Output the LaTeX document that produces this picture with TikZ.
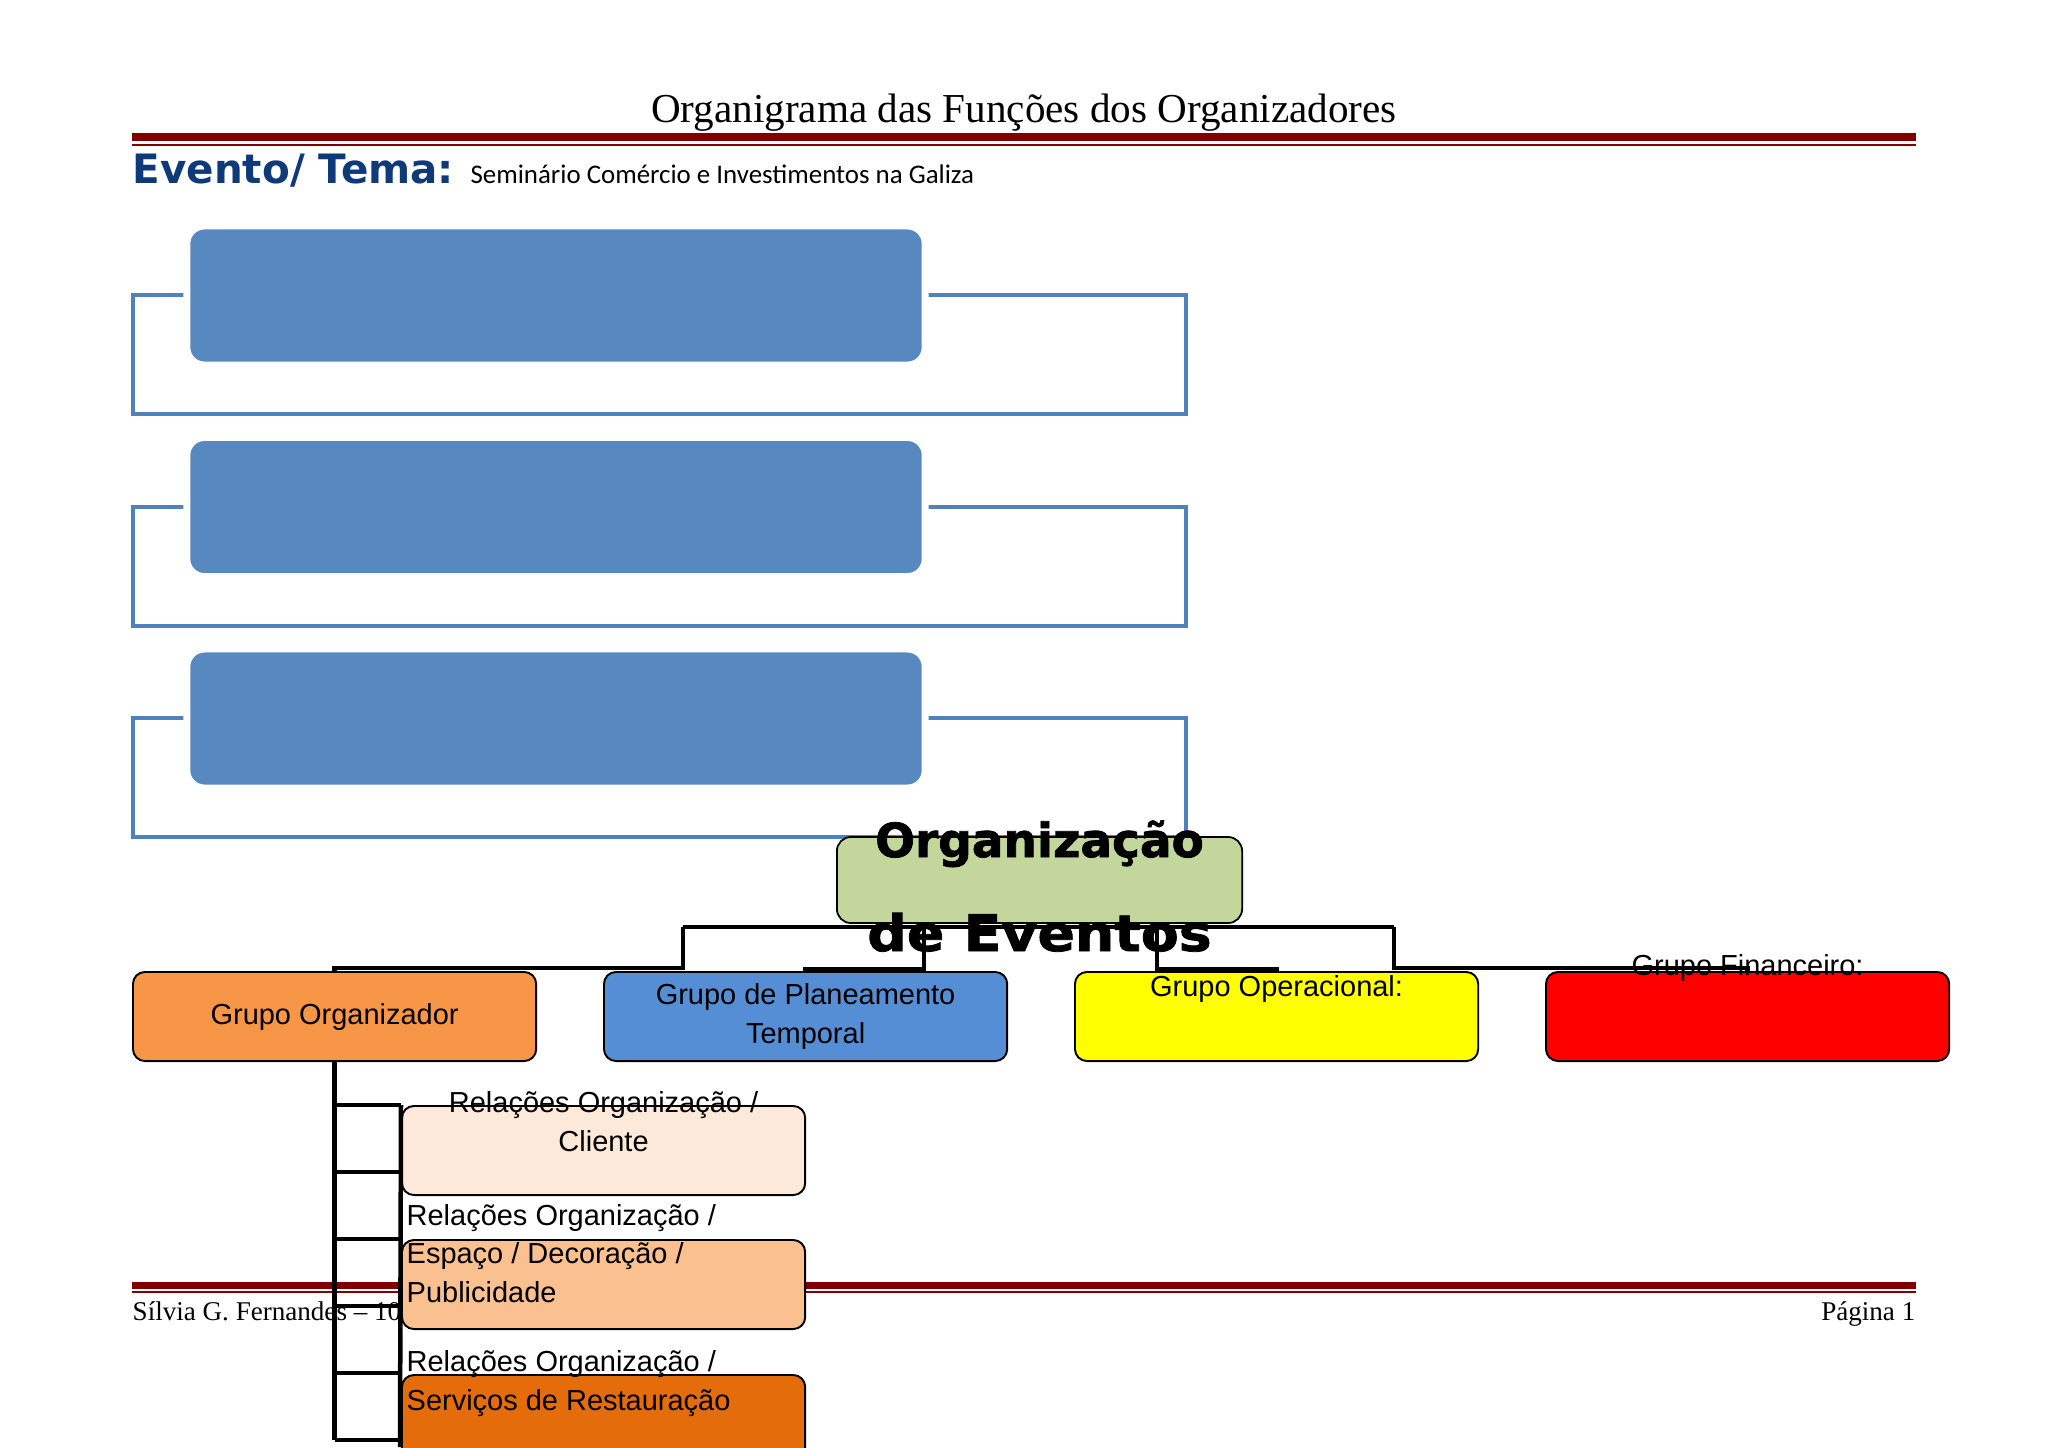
\documentclass[tikz,border=0pt]{standalone}
\usepackage{fontspec}
\usetikzlibrary{positioning,backgrounds}
\newfontfamily\camfont{Liberation Serif}
\newfontfamily\verfont{DejaVu Sans}
\newfontfamily\calfont{Carlito}
\newfontfamily\arifont{Liberation Sans}
\newfontfamily\blkfont{DejaVu Sans}[FakeBold=1.6]
\newfontfamily\blkwidefont{DejaVu Sans}[FakeStretch=1.1, FakeBold=1.6]
\newcommand\chartfont{\arifont\fontsize{8.24}{10.95}\selectfont}

\definecolor{headred}{RGB}{128,0,0}
\definecolor{evblue}{RGB}{15,58,122}
\definecolor{panelblue}{RGB}{87,136,192}
\definecolor{frameblue}{RGB}{79,129,189}
\definecolor{orggreen}{RGB}{195,214,155}
\definecolor{grporange}{RGB}{247,150,70}
\definecolor{grpblue}{RGB}{85,142,213}
\definecolor{grpyellow}{RGB}{255,255,0}
\definecolor{grpred}{RGB}{255,0,0}
\definecolor{subpeach}{RGB}{253,233,217}
\definecolor{sublight}{RGB}{250,192,144}
\definecolor{subdark}{RGB}{228,108,10}

\tikzset{
  bus/.style={line width=1.28pt, black},
  panelframe/.style={draw=frameblue, line width=1.14pt},
  panelbox/.style={fill=panelblue, draw=white, line width=2pt, rounded corners=5pt,
    minimum width=7.38cm, minimum height=1.39cm, inner sep=0pt},
  orgbox/.style={fill=orggreen, draw=black, line width=0.5pt, rounded corners=4pt,
    minimum width=4.05cm, minimum height=0.86cm, inner sep=0pt},
  orgtitle/.style={inner sep=0pt, anchor=base},
  grpbox/.style={draw=black, line width=0.55pt, rounded corners=3.4pt, minimum width=4.03cm,
    minimum height=0.89cm, inner sep=0pt, anchor=north west, font=\chartfont, align=center},
  subbox/.style={draw=black, line width=0.55pt, rounded corners=3.4pt, minimum width=4.03cm,
    minimum height=0.89cm, inner sep=0pt, anchor=north west},
  chartlbl/.style={font=\chartfont, inner sep=0pt},
}

\begin{document}
\begin{tikzpicture}[x=0.01cm, y=-0.01cm]
    \useasboundingbox (0,0) rectangle (2048,1447);
    % page header
    \node[orgtitle, font=\camfont\fontsize{11.7}{14}\selectfont] (title) at (1024,122)
        {Organigrama das Funções dos Organizadores};
    \fill[headred] (132,133) rectangle (1916,141);
    \fill[headred] (132,143.5) rectangle (1916,145.5);
    \node[inner sep=0pt, anchor=base west, text=evblue, font=\verfont\bfseries\fontsize{11.5}{13}\selectfont]
        (evento) at (132,183) {Evento/ Tema:};
    \node[inner sep=0pt, font=\calfont\fontsize{7.65}{9}\selectfont, base right=0.15cm of evento]
        (tema) {Seminário Comércio e Investimentos na Galiza};
    % page footer
    \fill[headred] (132,1282) rectangle (1916,1289);
    \fill[headred] (132,1291) rectangle (1916,1293);
    \node[inner sep=0pt, anchor=base west, font=\camfont\fontsize{7.7}{9}\selectfont]
        (autor) at (132,1320) {Sílvia G. Fernandes – 10};
    \node[inner sep=0pt, anchor=base east, font=\camfont\fontsize{7.7}{9}\selectfont]
        (pagina) at (1916,1320) {Página 1};
    % three empty blue panels
    \foreach \t [count=\i] in {229,440.5,652}{
        \draw[panelframe] (133,\t+66) rectangle (1186,\t+185);
        \node[panelbox] (pan\i) at (556,\t+66.5) {};
    }
    % organisation chart
    \node[orgbox] (org) at (1039.5,880) {};
    \node[grpbox, fill=grporange] (gorg) at (132,971) {Grupo Organizador};
    \node[grpbox, fill=grpblue] (gplan) at (603,971) {Grupo de Planeamento\\Temporal};
    \node[grpbox, fill=grpyellow, text height=0.24cm, text depth=0.65cm] (gop) at (1074,971) {Grupo Operacional:};
    \node[grpbox, fill=grpred, text height=0.04cm, text depth=0.85cm] (gfin) at (1545,971) {Grupo Financeiro:};
    \node[orgtitle, font=\blkfont\bfseries\fontsize{13.35}{15}\selectfont] (orgl1) at (1039.5,857) {Organização};
    \node[orgtitle, font=\blkwidefont\bfseries\fontsize{14.3}{16}\selectfont] (orgl2) at (1039.5,951) {de Eventos};
    \coordinate (busl) at (683,927);
    \coordinate (busr) at (1394,927);
    \begin{pgfonlayer}{background}
        \draw[bus] (busl) -- (busr);
        \draw[bus] (busl) -- (busl |- 0,968) -| (gorg.north);
        \draw[bus] (busr) -- (busr |- 0,968) -| (gfin.north);
        \draw[bus] ([xshift=-1.155cm]org.south) -- ++(0,45) -| (gplan.north);
        \draw[bus] ([xshift=1.175cm]org.south) -- ++(0,45) -| (gop.north);
    \end{pgfonlayer}
    % sub-groups of Grupo Organizador
    \node[subbox, fill=subpeach] (sub1) at (401,1105) {};
    \node[subbox, fill=sublight] (sub2) at (401,1239) {};
    \node[subbox, fill=subdark] (sub3) at (401,1374) {};
    \draw[bus] (gorg.south) -- (gorg.south |- 0,1440);
    \draw[bus] (sub1.north west) -- (400,1447);
    \foreach \y in {1105,1172,...,1440}
        \draw[bus] (gorg.south |- 0,\y) -- (sub1.west |- 0,\y);
    \node[chartlbl, anchor=base, align=center] (sub1t) at (sub1.north |- 0,1151) {Relações Organização /\\Cliente};
    \node[chartlbl, anchor=base west, align=left] (sub2t) at (406,1302) {Relações Organização /\\Espaço / Decoração /\\Publicidade};
    \node[chartlbl, anchor=base west, align=left] (sub3t) at (406,1410) {Relações Organização /\\Serviços de Restauração};
\end{tikzpicture}
\end{document}
